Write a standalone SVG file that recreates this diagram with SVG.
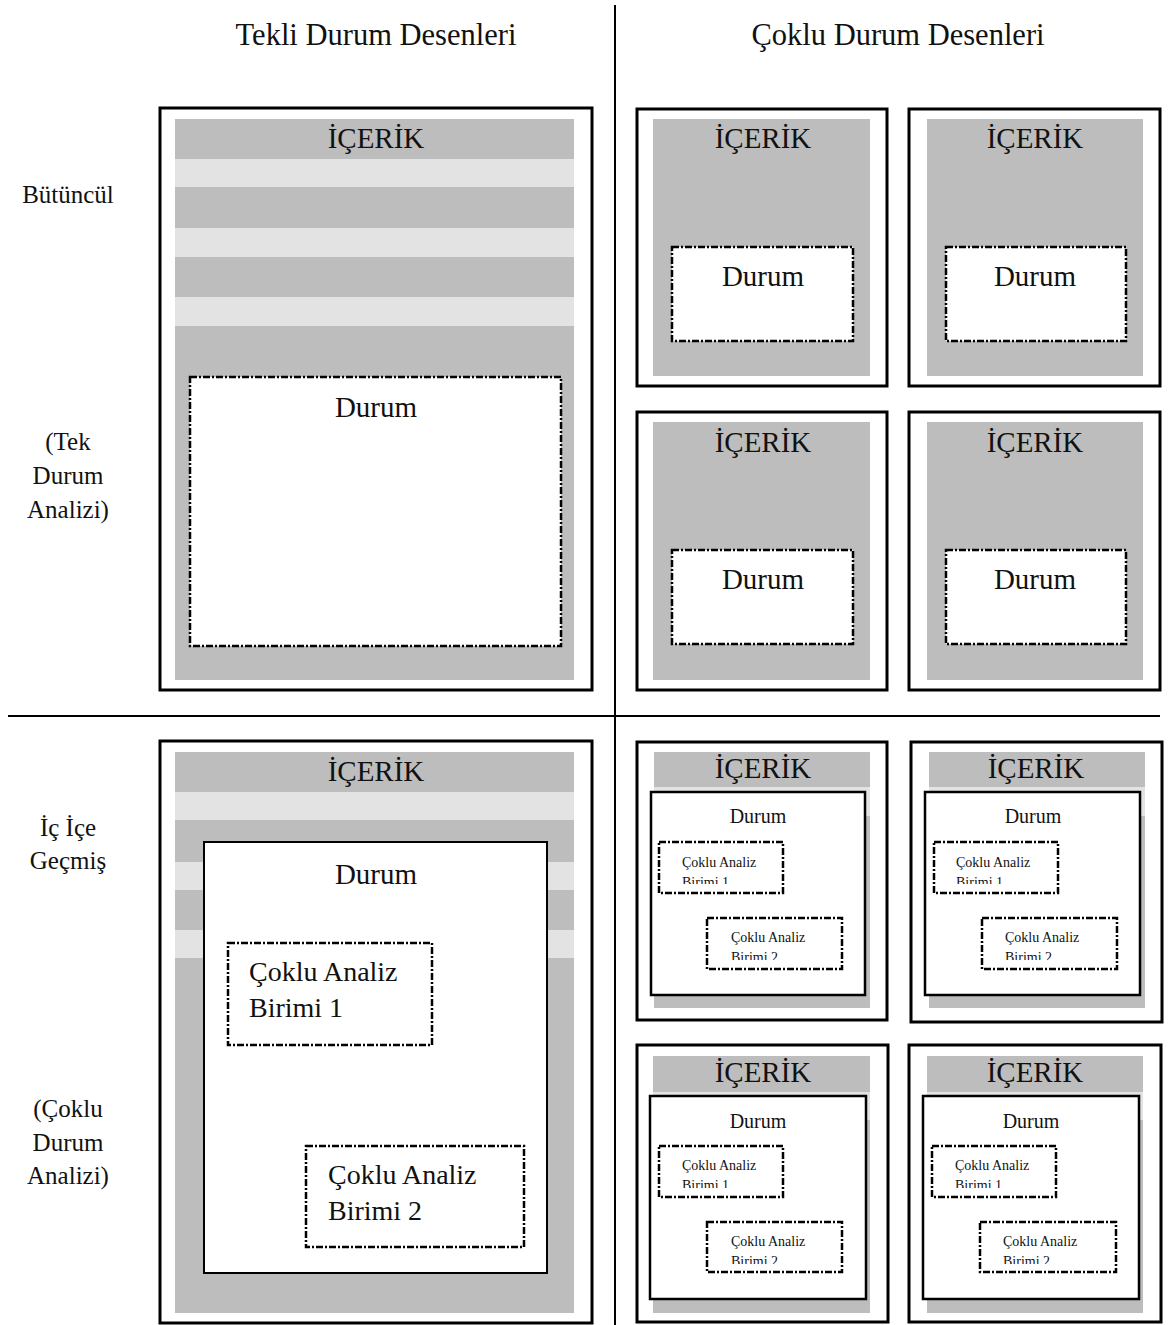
<svg xmlns="http://www.w3.org/2000/svg" width="1168" height="1325" viewBox="0 0 1168 1325">
<style>
text{font-family:"Liberation Serif","Times New Roman",serif;fill:#111}
.t30{font-size:30.5px}
.t29{font-size:29px;text-anchor:middle}
.t28{font-size:28px}
.t20{font-size:20px;text-anchor:middle}
.t14{font-size:14px}
.lab{font-size:25px;text-anchor:middle}
.outer{fill:#fff;stroke:#000;stroke-width:3}
.gray{fill:#bdbdbd}
.light{fill:#e3e3e3}
.dash{fill:#fff;stroke:#000;stroke-width:2.5;stroke-dasharray:7 2 2 2}
.solid{fill:#fff;stroke:#000;stroke-width:2.5}
.line{stroke:#000;stroke-width:2}
</style>
<defs>
<clipPath id="c1"><rect x="659" y="842" width="124" height="42"/></clipPath>
<clipPath id="c2"><rect x="707" y="918" width="135" height="42"/></clipPath>
<clipPath id="c3"><rect x="934" y="842" width="124" height="42"/></clipPath>
<clipPath id="c4"><rect x="982" y="918" width="135" height="42"/></clipPath>
<clipPath id="c5"><rect x="659" y="1146" width="124" height="42"/></clipPath>
<clipPath id="c6"><rect x="707" y="1222" width="135" height="42"/></clipPath>
<clipPath id="c7"><rect x="932" y="1146" width="124" height="42"/></clipPath>
<clipPath id="c8"><rect x="980" y="1222" width="136" height="42"/></clipPath>
</defs>
<rect width="1168" height="1325" fill="#fff"/>

<g id="labels">
<text class="t30" x="376" y="45" text-anchor="middle">Tekli Durum Desenleri</text>
<text class="t30" x="898" y="45" text-anchor="middle">Çoklu Durum Desenleri</text>
<text class="lab" x="68" y="203">Bütüncül</text>
<text class="lab" x="68" y="450">(Tek</text>
<text class="lab" x="68" y="484">Durum</text>
<text class="lab" x="68" y="518">Analizi)</text>
<text class="lab" x="68" y="836">İç İçe</text>
<text class="lab" x="68" y="869">Geçmiş</text>
<text class="lab" x="68" y="1117">(Çoklu</text>
<text class="lab" x="68" y="1151">Durum</text>
<text class="lab" x="68" y="1184">Analizi)</text>
</g>

<g id="connectors">
<line class="line" x1="615" y1="5" x2="615" y2="1325"/>
<line class="line" x1="8" y1="716" x2="1160" y2="716"/>
</g>

<g id="tek-butuncul">
<rect class="outer" x="160" y="108" width="432" height="582"/>
<rect class="gray" x="175" y="119" width="399" height="561"/>
<rect class="light" x="175" y="159" width="399" height="28"/>
<rect class="light" x="175" y="228" width="399" height="29"/>
<rect class="light" x="175" y="297" width="399" height="29"/>
<text class="t29" x="376" y="148">İÇERİK</text>
<rect class="dash" x="190" y="377" width="371" height="269"/>
<text class="t29" x="376" y="417">Durum</text>
</g>

<g id="coklu-butuncul-1">
<rect class="outer" x="637" y="109" width="250" height="277"/>
<rect class="gray" x="653" y="119" width="217" height="257"/>
<text class="t29" x="763" y="148">İÇERİK</text>
<rect class="dash" x="672" y="247" width="181" height="94"/>
<text class="t29" x="763" y="286">Durum</text>
</g>
<g id="coklu-butuncul-2">
<rect class="outer" x="909" y="109" width="251" height="277"/>
<rect class="gray" x="927" y="119" width="216" height="257"/>
<text class="t29" x="1035" y="148">İÇERİK</text>
<rect class="dash" x="946" y="247" width="180" height="94"/>
<text class="t29" x="1035" y="286">Durum</text>
</g>
<g id="coklu-butuncul-3">
<rect class="outer" x="637" y="412" width="250" height="278"/>
<rect class="gray" x="653" y="422" width="217" height="258"/>
<text class="t29" x="763" y="452">İÇERİK</text>
<rect class="dash" x="672" y="550" width="181" height="94"/>
<text class="t29" x="763" y="589">Durum</text>
</g>
<g id="coklu-butuncul-4">
<rect class="outer" x="909" y="412" width="251" height="278"/>
<rect class="gray" x="927" y="422" width="216" height="258"/>
<text class="t29" x="1035" y="452">İÇERİK</text>
<rect class="dash" x="946" y="550" width="180" height="94"/>
<text class="t29" x="1035" y="589">Durum</text>
</g>

<g id="tek-icice">
<rect class="outer" x="160" y="741" width="432" height="582"/>
<rect class="gray" x="175" y="752" width="399" height="561"/>
<rect class="light" x="175" y="792" width="399" height="28"/>
<rect class="light" x="175" y="862" width="399" height="28"/>
<rect class="light" x="175" y="930" width="399" height="28"/>
<text class="t29" x="376" y="781">İÇERİK</text>
<rect x="204" y="842" width="343" height="431" fill="#fff" stroke="#000" stroke-width="2"/>
<text class="t29" x="376" y="884">Durum</text>
<rect class="dash" x="228" y="943" width="204" height="102"/>
<text class="t28" x="249" y="981">Çoklu Analiz</text>
<text class="t28" x="249" y="1017">Birimi 1</text>
<rect class="dash" x="306" y="1146" width="218" height="101"/>
<text class="t28" x="328" y="1184">Çoklu Analiz</text>
<text class="t28" x="328" y="1220">Birimi 2</text>
</g>

<g id="coklu-icice-1">
<rect class="outer" x="637" y="742" width="250" height="278"/>
<rect class="gray" x="654" y="752" width="216" height="256"/>
<rect class="light" x="654" y="787" width="216" height="29"/>
<text class="t29" x="763" y="778">İÇERİK</text>
<rect class="solid" x="651" y="792" width="214" height="203"/>
<text class="t20" x="758" y="823">Durum</text>
<rect class="dash" x="659" y="842" width="124" height="51"/>
<g clip-path="url(#c1)"><text class="t14" x="682" y="867">Çoklu Analiz</text><text class="t14" x="682" y="887">Birimi 1</text></g>
<rect class="dash" x="707" y="918" width="135" height="51"/>
<g clip-path="url(#c2)"><text class="t14" x="731" y="942">Çoklu Analiz</text><text class="t14" x="731" y="962">Birimi 2</text></g>
</g>
<g id="coklu-icice-2">
<rect class="outer" x="911" y="742" width="251" height="280"/>
<rect class="gray" x="929" y="752" width="216" height="256"/>
<rect class="light" x="929" y="787" width="216" height="29"/>
<text class="t29" x="1036" y="778">İÇERİK</text>
<rect class="solid" x="925" y="792" width="215" height="203"/>
<text class="t20" x="1033" y="823">Durum</text>
<rect class="dash" x="934" y="842" width="124" height="51"/>
<g clip-path="url(#c3)"><text class="t14" x="956" y="867">Çoklu Analiz</text><text class="t14" x="956" y="887">Birimi 1</text></g>
<rect class="dash" x="982" y="918" width="135" height="51"/>
<g clip-path="url(#c4)"><text class="t14" x="1005" y="942">Çoklu Analiz</text><text class="t14" x="1005" y="962">Birimi 2</text></g>
</g>
<g id="coklu-icice-3">
<rect class="outer" x="637" y="1045" width="251" height="277"/>
<rect class="gray" x="653" y="1056" width="217" height="257"/>
<rect class="light" x="653" y="1092" width="217" height="28"/>
<text class="t29" x="763" y="1082">İÇERİK</text>
<rect class="solid" x="650" y="1096" width="216" height="203"/>
<text class="t20" x="758" y="1128">Durum</text>
<rect class="dash" x="659" y="1146" width="124" height="51"/>
<g clip-path="url(#c5)"><text class="t14" x="682" y="1170">Çoklu Analiz</text><text class="t14" x="682" y="1190">Birimi 1</text></g>
<rect class="dash" x="707" y="1222" width="135" height="50"/>
<g clip-path="url(#c6)"><text class="t14" x="731" y="1246">Çoklu Analiz</text><text class="t14" x="731" y="1266">Birimi 2</text></g>
</g>
<g id="coklu-icice-4">
<rect class="outer" x="909" y="1045" width="252" height="277"/>
<rect class="gray" x="927" y="1056" width="216" height="257"/>
<rect class="light" x="927" y="1092" width="216" height="28"/>
<text class="t29" x="1035" y="1082">İÇERİK</text>
<rect class="solid" x="923" y="1096" width="216" height="203"/>
<text class="t20" x="1031" y="1128">Durum</text>
<rect class="dash" x="932" y="1146" width="124" height="51"/>
<g clip-path="url(#c7)"><text class="t14" x="955" y="1170">Çoklu Analiz</text><text class="t14" x="955" y="1190">Birimi 1</text></g>
<rect class="dash" x="980" y="1222" width="136" height="50"/>
<g clip-path="url(#c8)"><text class="t14" x="1003" y="1246">Çoklu Analiz</text><text class="t14" x="1003" y="1266">Birimi 2</text></g>
</g>
</svg>
